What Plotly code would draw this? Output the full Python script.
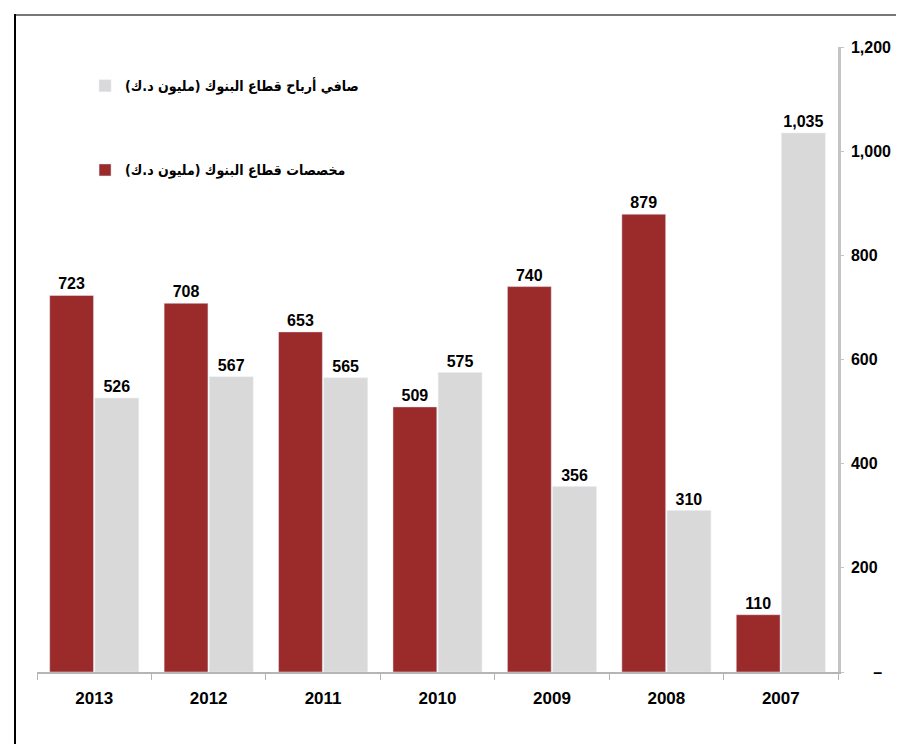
import plotly.graph_objects as go

years = ["2013", "2012", "2011", "2010", "2009", "2008", "2007"]
provisions = [723, 708, 653, 509, 740, 879, 110]
net_profit = [526, 567, 565, 575, 356, 310, 1035]
name_provisions = "مخصصات قطاع البنوك (مليون د.ك)"
name_profit = "صافي أرباح قطاع البنوك (مليون د.ك)"
y_ticks = [0, 200, 400, 600, 800, 1000, 1200]
y_ticktext = ["\u00a0\u00a0\u00a0\u00a0\u00a0<b>–</b>", "200", "400", "600", "800", "1,000", "1,200"]

RED = "#9b2a2b"
GRAY = "#d9d9d9"

def rtl(s):
    return "<b>\u200f" + s + "\u200f</b>"

label_font = dict(size=16, color="black", family="Arial", weight="bold")

fig = go.Figure()
fig.add_trace(go.Bar(
    x=years, y=provisions, name=rtl(name_provisions), marker_color=RED,
    texttemplate="%{y:,}", textposition="outside", textfont=label_font,
    cliponaxis=False, legendgroup="a", legendrank=2,
))
fig.add_trace(go.Bar(
    x=years, y=net_profit, name=rtl(name_profit), marker_color=GRAY,
    texttemplate="%{y:,}", textposition="outside", textfont=label_font,
    cliponaxis=False, legendgroup="b", legendrank=1,
))

# page offset of 8px (body margin) compensated in margins
L, T, R, B = 29, 39, 74, 80
fig.update_layout(
    width=904, height=744,
    margin=dict(l=L, r=R, t=T, b=B),
    paper_bgcolor="white", plot_bgcolor="white",
    barmode="group", bargap=0.21, bargroupgap=0.03,
    font=dict(family="Arial", size=15, color="black"),
    legend=dict(
        x=0.06, y=0.963, xanchor="left", yanchor="top",
        font=dict(size=14, family="DejaVu Sans Condensed", color="black", weight="bold"),
        tracegroupgap=63, bgcolor="rgba(0,0,0,0)",
    ),
    xaxis=dict(
        type="category", showgrid=False, showline=True, linecolor="#b5b5b5", linewidth=1.5,
        ticks="outside", tickson="boundaries", ticklen=6, tickcolor="#b5b5b5",
        tickfont=dict(size=17, family="Arial", weight="bold"), ticklabelstandoff=10,
    ),
    yaxis=dict(
        side="right", range=[0, 1200], tickvals=y_ticks, ticktext=y_ticktext,
        showgrid=False, zeroline=False, showline=True, linecolor="#c4c4c4", linewidth=2.5,
        ticks="outside", ticklen=3, tickcolor="#c4c4c4",
        tickfont=dict(size=16, family="Arial", weight="bold"), ticklabelstandoff=4,
    ),
)

# frame lines (top and left), in paper coordinates (figure px)
pw, ph = 904 - L - R, 744 - T - B
def px(x):
    return (x - L) / pw
def py(y):
    return (744 - B - y) / ph
fig.add_shape(type="line", xref="paper", yref="paper", x0=px(7), x1=px(910), y0=py(7), y1=py(7),
              line=dict(color="#777777", width=2))
fig.add_shape(type="line", xref="paper", yref="paper", x0=px(7), x1=px(7), y0=py(6), y1=py(750),
              line=dict(color="black", width=2))

fig.write_html("out.html")
